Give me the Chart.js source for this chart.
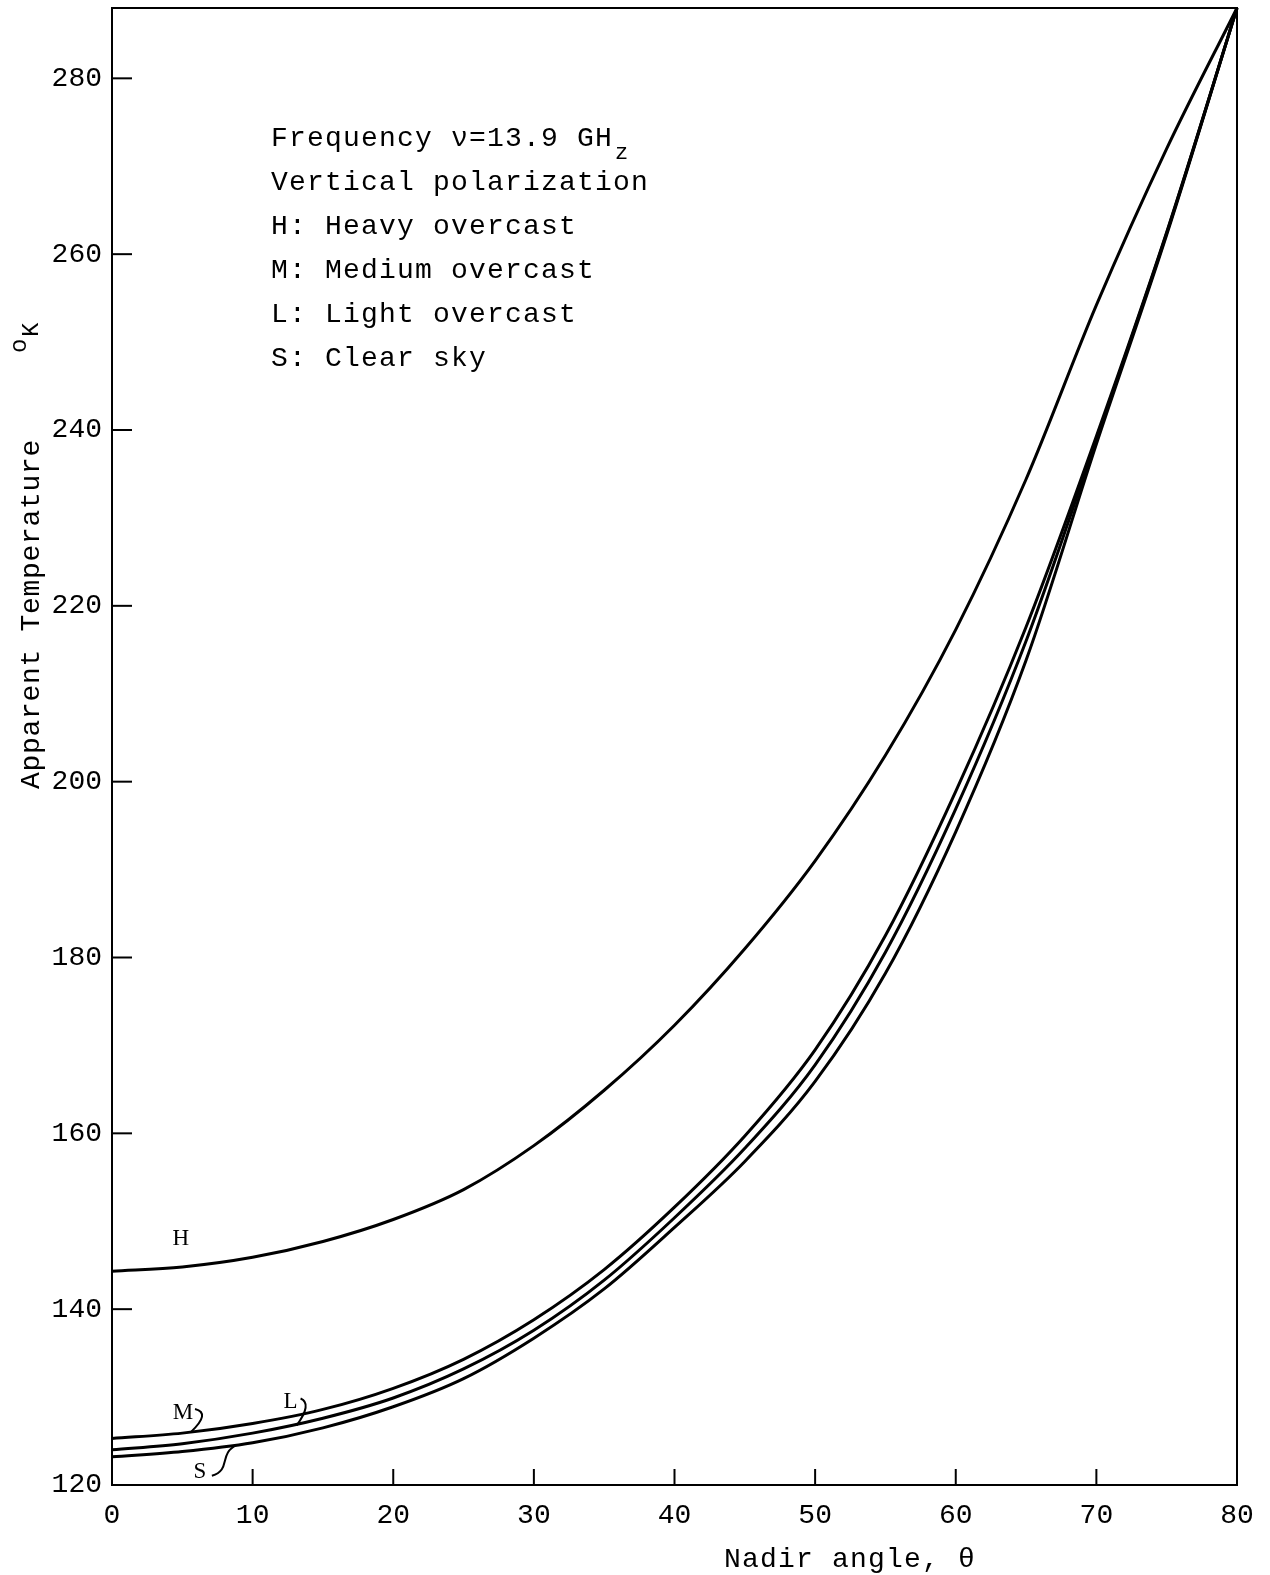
<!DOCTYPE html>
<html>
<head>
<meta charset="utf-8">
<script src="https://cdn.jsdelivr.net/npm/chart.js@4.4.1/dist/chart.umd.min.js"></script>
<style>
  html, body { margin: 0; padding: 0; background: #fff; }
</style>
</head>
<body>
<canvas id="chart" width="1270" height="1575"></canvas>
<script>
/* Apparent temperature vs nadir angle, 13.9 GHz, vertical polarization */

const angles = [0, 5, 10, 15, 20, 25, 30, 35, 40, 45, 50, 55, 60, 65, 70, 75, 80];
const heavy  = [144.3, 144.8, 145.9, 147.7, 150.2, 153.6, 158.6, 164.9, 172.3, 181.0, 191.0, 203.0, 217.3, 234.4, 254.2, 272.0, 288];
const medium = [125.3, 125.9, 127.0, 128.6, 131.0, 134.3, 138.8, 144.5, 151.6, 159.7, 169.5, 182.5, 198.9, 217.6, 239.3, 262.5, 288];
const light  = [124.0, 124.7, 125.9, 127.6, 129.9, 133.2, 137.6, 143.3, 150.4, 158.3, 167.8, 180.6, 196.9, 216.0, 238.9, 262.4, 288];
const clear  = [123.2, 123.8, 124.8, 126.5, 128.9, 132.1, 136.7, 142.3, 149.3, 156.8, 165.9, 178.2, 194.3, 213.8, 238.4, 262.2, 288];

const xTicks = [0, 10, 20, 30, 40, 50, 60, 70, 80];
const yTicks = [120, 140, 160, 180, 200, 220, 240, 260, 280];

const notes = [
    'Vertical polarization',
    'H: Heavy overcast',
    'M: Medium overcast',
    'L: Light overcast',
    'S: Clear sky',
];

// curve letters: [text, angle, temperature]
const curveLabels = [
    ['H', 4.9, 148.0],
    ['M', 5.05, 128.2],
    ['L', 12.7, 129.5],
    ['S', 6.25, 121.5],
];

const MONO = '"Liberation Mono", "DejaVu Sans Mono", monospace';
const SERIF = '"Liberation Serif", "DejaVu Serif", serif';

const toPoints = (ys) => angles.map((a, i) => ({ x: a, y: ys[i] }));

const curve = (label, ys) => ({
    label,
    data: toPoints(ys),
    borderColor: '#000',
    borderWidth: 3,
    pointRadius: 0,
    cubicInterpolationMode: 'monotone',
    fill: false,
    clip: false,
});

function line(ctx, x1, y1, x2, y2) {
    ctx.beginPath();
    ctx.moveTo(x1, y1);
    ctx.lineTo(x2, y2);
    ctx.stroke();
}

const decorations = {
    id: 'decorations',
    afterDraw(chart) {
        const { ctx, chartArea: a, scales: { x, y } } = chart;
        ctx.save();
        ctx.strokeStyle = '#000';
        ctx.fillStyle = '#000';

        // frame
        ctx.lineWidth = 2;
        ctx.strokeRect(a.left, a.top, a.right - a.left, a.bottom - a.top);

        // inward tick marks
        x.ticks.forEach((t) => {
            if (t.value <= x.min || t.value >= x.max) return;
            const px = x.getPixelForValue(t.value);
            line(ctx, px, a.bottom, px, a.bottom - 16);
        });
        y.ticks.forEach((t) => {
            if (t.value <= y.min || t.value >= y.max) return;
            const py = y.getPixelForValue(t.value);
            line(ctx, a.left, py, a.left + 20, py);
        });

        // notes block
        ctx.font = `28px ${MONO}`;
        ctx.letterSpacing = '1.2px';
        ctx.textBaseline = 'middle';
        ctx.textAlign = 'left';
        const nx = a.left + 159;
        const ny = a.top + 131;
        const head = 'Frequency \u03bd=13.9 GH';
        ctx.fillText(head, nx, ny);
        const hw = ctx.measureText(head).width;
        ctx.font = `22px ${MONO}`;
        ctx.fillText('z', nx + hw + 2, ny + 14);
        ctx.font = `28px ${MONO}`;
        notes.forEach((s, i) => ctx.fillText(s, nx, ny + 44 * (i + 1)));

        // x axis title
        ctx.textAlign = 'center';
        ctx.fillText('Nadir angle, \u03b8', a.left + 738, a.bottom + 75);

        // y axis title, rotated, with °K
        ctx.save();
        ctx.letterSpacing = '0.7px';
        ctx.translate(32, a.bottom - 696);
        ctx.rotate(-Math.PI / 2);
        ctx.textAlign = 'left';
        ctx.fillText('Apparent Temperature', 0, 0);
        ctx.font = `24px ${MONO}`;
        ctx.fillText('o', 436, -12);
        ctx.fillText('K', 452, 0);
        ctx.restore();

        // curve letters + leaders
        ctx.letterSpacing = '0px';
        ctx.font = `23px ${SERIF}`;
        ctx.textAlign = 'center';
        ctx.lineWidth = 2;
        const pos = {};
        curveLabels.forEach(([t, ax, ay]) => {
            const px = x.getPixelForValue(ax);
            const py = y.getPixelForValue(ay);
            pos[t] = [px, py];
            ctx.fillText(t, px, py);
        });
        let [mx, my] = pos.M;
        ctx.beginPath();
        ctx.moveTo(mx + 12, my - 4);
        ctx.quadraticCurveTo(mx + 28, my, mx + 8, my + 19);
        ctx.stroke();
        [mx, my] = pos.L;
        ctx.beginPath();
        ctx.moveTo(mx + 10, my - 3);
        ctx.quadraticCurveTo(mx + 22, my + 2, mx + 6, my + 24);
        ctx.stroke();
        [mx, my] = pos.S;
        ctx.beginPath();
        ctx.moveTo(mx + 12, my + 4);
        ctx.bezierCurveTo(mx + 32, my - 2, mx + 18, my - 18, mx + 37, my - 27);
        ctx.stroke();

        ctx.restore();
    },
};

new Chart(document.getElementById('chart'), {
    type: 'line',
    data: {
        datasets: [
            curve('H', heavy),
            curve('M', medium),
            curve('L', light),
            curve('S', clear),
        ],
    },
    options: {
        responsive: false,
        animation: false,
        events: [],
        layout: { padding: { top: 8, right: 33, bottom: 40, left: 0 } },
        plugins: { legend: { display: false }, tooltip: { enabled: false } },
        scales: {
            x: {
                type: 'linear',
                min: 0,
                max: 80,
                afterFit: (s) => {
                    s.height = 50;
                    s.paddingLeft = 0;
                    s.paddingRight = 0;
                },
                afterBuildTicks: (s) => { s.ticks = xTicks.map((v) => ({ value: v })); },
                grid: { drawOnChartArea: false, drawTicks: false },
                border: { display: false },
                ticks: { padding: 14, color: '#000', font: { family: MONO, size: 28 } },
            },
            y: {
                type: 'linear',
                min: 120,
                max: 288,
                afterFit: (s) => {
                    s.width = 112;
                    s.paddingTop = 0;
                    s.paddingBottom = 0;
                },
                afterBuildTicks: (s) => { s.ticks = yTicks.map((v) => ({ value: v })); },
                grid: { drawOnChartArea: false, drawTicks: false },
                border: { display: false },
                ticks: { padding: 10, color: '#000', font: { family: MONO, size: 28 } },
            },
        },
    },
    plugins: [decorations],
});
</script>
</body>
</html>
